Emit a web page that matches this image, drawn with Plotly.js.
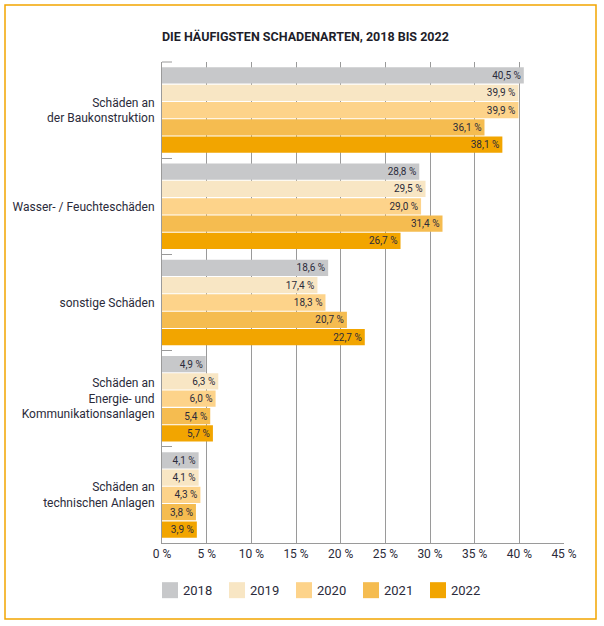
<!DOCTYPE html>
<html>
<head>
<meta charset="utf-8">
<script src="https://cdn.plot.ly/plotly-3.0.1.min.js"></script>
<style>
html,body{margin:0;padding:0;background:#fff;}
#chart{width:604px;height:626px;}
</style>
</head>
<body>
<div id="chart"></div>
<script>
const categories = [
  "Schäden an<br>der Baukonstruktion",
  "Wasser- / Feuchteschäden",
  "sonstige Schäden",
  "Schäden an<br>Energie- und<br>Kommunikationsanlagen",
  "Schäden an<br>technischen Anlagen"
];
const years = ["2018", "2019", "2020", "2021", "2022"];
const v2018 = [40.5, 28.8, 18.6, 4.9, 4.1];
const v2019 = [39.9, 29.5, 17.4, 6.3, 4.1];
const v2020 = [39.9, 29.0, 18.3, 6.0, 4.3];
const v2021 = [36.1, 31.4, 20.7, 5.4, 3.8];
const v2022 = [38.1, 26.7, 22.7, 5.7, 3.9];
const xTicks = [0, 5, 10, 15, 20, 25, 30, 35, 40, 45];

const series = [v2018, v2019, v2020, v2021, v2022];
const colors = ["#c7c8ca", "#f8e6c4", "#fdd38a", "#f5bc50", "#f2a500"];
const FONT = "Roboto, 'Liberation Sans', sans-serif";
const TXT = "#2b2b3a";

const fmt = v => v.toFixed(1).replace(".", ",") + " %";

const traces = series.map((vals, i) => ({
  type: "bar",
  orientation: "h",
  name: years[i],
  y: categories,
  x: vals,
  text: vals.map(fmt),
  textposition: "inside",
  insidetextanchor: "end",
  constraintext: "none",
  insidetextfont: {family: FONT, size: 10, color: TXT},
  marker: {color: colors[i], line: {width: 0}},
  hoverinfo: "skip"
}));

const layout = {
  width: 604,
  height: 626,
  margin: {l: 162, r: 40, t: 62, b: 83},
  paper_bgcolor: "#fff",
  plot_bgcolor: "#fff",
  font: {family: FONT, color: TXT, size: 12},
  barmode: "group",
  bargap: 0.1,
  bargroupgap: 0.06,
  title: {
    text: "<b>DIE HÄUFIGSTEN SCHADENARTEN, 2018 BIS 2022</b>",
    font: {family: FONT, size: 12.5, color: "#1e1e2a"},
    xref: "paper", x: 0, xanchor: "left",
    yref: "container", y: 1 - 37/626, yanchor: "middle"
  },
  xaxis: {
    range: [0, 45],
    tickvals: xTicks,
    ticktext: xTicks.map(t => t + " %"),
    showgrid: true,
    gridcolor: "#9a9a9a",
    gridwidth: 1,
    showline: true,
    linecolor: "#9a9a9a",
    linewidth: 1,
    zeroline: false,
    ticks: "",
    tickfont: {family: FONT, size: 12, color: TXT},
    fixedrange: true
  },
  yaxis: {
    autorange: "reversed",
    type: "category",
    showline: true,
    linecolor: "#9a9a9a",
    linewidth: 1,
    ticks: "inside",
    tickson: "boundaries",
    ticklen: 10,
    tickcolor: "#9a9a9a",
    tickwidth: 1,
    showgrid: false,
    ticklabelstandoff: 4,
    tickfont: {family: FONT, size: 12, color: TXT},
    fixedrange: true
  },
  showlegend: true,
  legend: {
    orientation: "h",
    x: -19 / 402, xanchor: "left",
    y: -0.067, yanchor: "top",
    traceorder: "normal",
    entrywidth: 22,
    entrywidthmode: "pixels",
    itemwidth: 30,
    bgcolor: "rgba(0,0,0,0)",
    font: {family: FONT, size: 13, color: TXT}
  },
  shapes: [{
    type: "rect",
    xref: "paper", yref: "paper",
    x0: (5 - 162) / 402, x1: (596 - 162) / 402,
    y0: (543 - 619) / 481, y1: (543 - 5) / 481,
    line: {color: "#f2a500", width: 1.5},
    fillcolor: "rgba(0,0,0,0)",
    layer: "below"
  }, {
    type: "line",
    xref: "paper", yref: "paper",
    x0: 0, x1: 10 / 402, y0: 1, y1: 1,
    line: {color: "#9a9a9a", width: 1}
  }]
};

Plotly.newPlot("chart", traces, layout, {displayModeBar: false, staticPlot: true}).then(gd => {
  gd.querySelectorAll(".legend .legendpoints path").forEach(p => {
    p.setAttribute("d", "M15,8H-1V-8H15Z");
  });
  gd.querySelectorAll(".legend [clip-path]").forEach(el => el.removeAttribute("clip-path"));
});
</script>
</body>
</html>
